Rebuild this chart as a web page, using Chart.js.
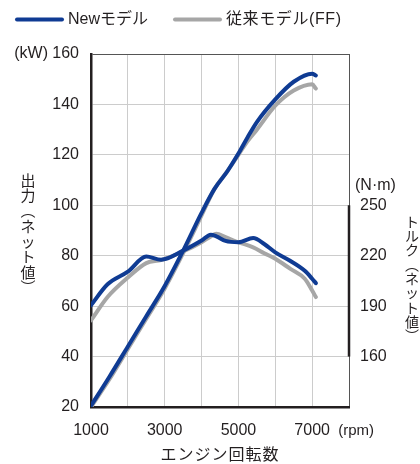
<!DOCTYPE html>
<html>
<head>
<meta charset="utf-8">
<script src="https://cdn.jsdelivr.net/npm/chart.js@4.4.1/dist/chart.umd.min.js"></script>
<style>
  html, body { margin: 0; padding: 0; background: #fff; }
</style>
</head>
<body>
<canvas id="engineChart" width="420" height="464"></canvas>
<script>
// engine speed (rpm) for the power curves
const rpmPower = [1000, 1500, 2000, 2500, 3000, 3500, 4000, 4350, 4700, 5000, 5250, 5500, 6000, 6500, 7000, 7100];
const powerNew = [20.5, 32, 44, 56, 68, 82, 97, 106.5, 113.5, 120.5, 127, 133, 142, 149, 152.2, 151.5];
const powerOld = [20, 31, 43, 55, 67, 81, 96, 106.5, 113.5, 120, 125.5, 130, 139.5, 145.5, 148, 146.3];

// engine speed (rpm) for the torque curves
const rpmTorque = [1000, 1450, 2000, 2500, 2900, 3500, 4000, 4250, 4400, 4650, 5000, 5400, 5700, 6000, 6400, 6800, 7000, 7100];
const torqueNew = [190.5, 203, 210.5, 219.5, 217.6, 223, 229, 232.5, 231.5, 228.8, 228, 230.5, 227, 222, 217, 211, 206.3, 203.7];
const torqueOld = [181.5, 195.4, 207, 215.6, 217.4, 222.5, 228, 231.5, 233, 231, 228, 225, 221.5, 218.2, 212.3, 206.3, 199.3, 195.4];

const xLabelTicks = [1000, 3000, 5000, 7000];
const kwTicks = [20, 40, 60, 80, 100, 120, 140, 160];
const nmTicks = [160, 190, 220, 250];

const seriesNames = ["Newモデル", "従来モデル(FF)"];
const powerTitle = ["出", "力", "︵", "ネ", "ッ", "ト", "値", "︶"];
const torqueTitle = ["ト", "ル", "ク", "︵", "ネ", "ッ", "ト", "値", "︶"];

const BLUE = "#0f3b93";
const GRAY = "#a6a6a6";
const INK = "#231f20";
const FONT = '"Liberation Sans", "Noto Sans CJK JP", sans-serif';
const JP_FONT = '"Noto Sans CJK JP", sans-serif';

const toPoints = (xs, ys) => xs.map((x, i) => ({ x: x, y: ys[i] }));

// legend, unit labels, axis titles and the short torque axis line
const extras = {
  id: "extras",
  afterDraw(chart) {
    const { ctx, chartArea, scales } = chart;
    const x = scales.x, y = scales.y, y1 = scales.y1;
    ctx.save();

    // torque axis only spans 160-250
    ctx.strokeStyle = INK;
    ctx.lineWidth = 2.5;
    ctx.beginPath();
    ctx.moveTo(chartArea.right, y1.getPixelForValue(250));
    ctx.lineTo(chartArea.right, y1.getPixelForValue(160));
    ctx.stroke();

    // legend
    const legendX = [17, 175];
    chart.data.datasets.slice(0, 2).forEach((ds, i) => {
      ctx.strokeStyle = ds.borderColor;
      ctx.lineWidth = 4;
      ctx.lineCap = "round";
      ctx.beginPath();
      ctx.moveTo(legendX[i], 19.5);
      ctx.lineTo(legendX[i] + 45, 19.5);
      ctx.stroke();
      ctx.fillStyle = INK;
      ctx.font = "16px " + FONT;
      ctx.textAlign = "left";
      ctx.textBaseline = "middle";
      ctx.letterSpacing = i === 1 ? "0.6px" : "0px";
      ctx.fillText(ds.label, legendX[i] + 51, 19.5);
    });
    ctx.letterSpacing = "0px";

    ctx.fillStyle = INK;
    ctx.textBaseline = "middle";
    ctx.font = "16px " + FONT;
    ctx.textAlign = "right";
    ctx.fillText("(kW)", 48, y.getPixelForValue(160));
    ctx.textAlign = "left";
    ctx.fillText("(N·m)", 355, y1.getPixelForValue(250) - 20);
    ctx.font = "15px " + FONT;
    ctx.fillText("(rpm)", x.getPixelForValue(7000) + 26, 431);

    ctx.font = "16px " + JP_FONT;
    ctx.textAlign = "center";
    ctx.letterSpacing = "1px";
    ctx.fillText("エンジン回転数", (chartArea.left + chartArea.right) / 2, 454);
    ctx.letterSpacing = "0px";

    // vertical axis titles
    ctx.font = "15px " + JP_FONT;
    powerTitle.forEach((ch, i) => ctx.fillText(ch, 28, 180 + i * 15.3));
    ctx.font = "14px " + JP_FONT;
    torqueTitle.forEach((ch, i) => ctx.fillText(ch, 412, 221.5 + i * 14.3));
    ctx.restore();
  },
};

const data = {
  datasets: [
    {
      label: seriesNames[0],
      data: toPoints(rpmPower, powerNew),
      borderColor: BLUE,
      yAxisID: "y",
    },
    {
      label: seriesNames[1],
      data: toPoints(rpmPower, powerOld),
      borderColor: GRAY,
      yAxisID: "y",
    },
    {
      label: "torqueNew",
      data: toPoints(rpmTorque, torqueNew),
      borderColor: BLUE,
      yAxisID: "y1",
      order: -1,
    },
    {
      label: "torqueOld",
      data: toPoints(rpmTorque, torqueOld),
      borderColor: GRAY,
      yAxisID: "y1",
      order: 1,
    },
  ],
};

const options = {
  responsive: false,
  animation: false,
  layout: { padding: { left: 6, right: 0, top: 54, bottom: 0 } },
  elements: {
    line: { borderWidth: 4, cubicInterpolationMode: "monotone", borderCapStyle: "round" },
    point: { radius: 0 },
  },
  plugins: {
    tooltip: { enabled: false },
    legend: { display: false },
  },
  scales: {
    x: {
      type: "linear",
      min: 1000,
      max: 8000,
      afterFit: (s) => { s.height = 57; },
      ticks: {
        stepSize: 1000,
        padding: 14,
        maxRotation: 0,
        autoSkip: false,
        color: INK,
        font: { size: 16, family: FONT },
        callback: (v) => (xLabelTicks.includes(v) ? String(v) : ""),
      },
      grid: {
        drawTicks: false,
        color: (c) => (c.tick && c.tick.value === 8000 ? "#555" : "#cccccc"),
      },
      border: { color: INK, width: 2.5 },
    },
    y: {
      min: 20,
      max: 160,
      afterFit: (s) => { s.width = 85; },
      afterBuildTicks: (s) => { s.ticks = kwTicks.map((v) => ({ value: v })); },
      ticks: {
        padding: 12,
        color: INK,
        font: { size: 16, family: FONT },
      },
      grid: {
        drawTicks: false,
        color: (c) => (c.tick && c.tick.value === 160 ? "#555" : "#cccccc"),
      },
      border: { color: INK, width: 2.5 },
    },
    y1: {
      position: "right",
      min: 130,
      max: 340,
      afterFit: (s) => { s.width = 71; },
      afterBuildTicks: (s) => { s.ticks = nmTicks.map((v) => ({ value: v })); },
      ticks: {
        padding: 11,
        color: INK,
        font: { size: 16, family: FONT },
      },
      grid: { display: false, drawTicks: false },
      border: { display: false },
    },
  },
};

new Chart(document.getElementById("engineChart"), {
  type: "line",
  data: data,
  options: options,
  plugins: [extras],
});
</script>
</body>
</html>
